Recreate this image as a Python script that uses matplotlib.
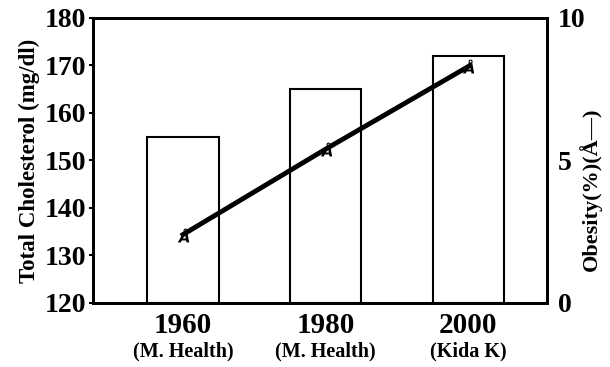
import matplotlib.pyplot as plt
import numpy as np

plt.rcParams['font.family'] = ['Liberation Serif', 'DejaVu Serif']
plt.rcParams['font.weight'] = 'bold'

years = ['1960', '1980', '2000']
sources = ['(M. Health)', '(M. Health)', '(Kida K)']
cholesterol = [155, 165, 172]
obesity = [2.4, 5.4, 8.3]

x = np.arange(len(years))

fig = plt.figure(figsize=(6.1, 3.67), dpi=100)
ax = fig.add_axes([0.1525, 0.1744, 0.7442, 0.7766])

ax.bar(x, [c - 120 for c in cholesterol], bottom=120, width=0.5,
       color='white', edgecolor='black', linewidth=1.5, zorder=1)
ax.set_xlim(-0.63, 2.55)
ax.set_ylim(120, 180)
ax.set_yticks([120, 130, 140, 150, 160, 170, 180])
ax.tick_params(axis='y', direction='out', length=3, width=1.5, labelsize=20, pad=2)
ax.set_xticks(x)
ax.set_xticklabels([''] * len(years))
ax.tick_params(axis='x', length=0)
for i in range(len(years)):
    ax.text(x[i], 118.2, years[i], ha='center', va='top', fontsize=21,
            fontweight='bold')
    ax.text(x[i], 112.0, sources[i], ha='center', va='top', fontsize=14.5,
            fontweight='bold')
ax.set_ylabel('Total Cholesterol (mg/dl)', fontsize=16.5, fontweight='bold', labelpad=3)
for s in ax.spines.values():
    s.set_linewidth(2)

ax2 = ax.twinx()
ax2.plot(x, obesity, color='black', linewidth=3.5, marker='$Å$',
         markersize=10, markeredgewidth=0, zorder=3)
ax2.set_ylim(0, 10)
ax2.set_yticks([0, 5, 10])
ax2.tick_params(axis='y', length=0, labelsize=20, pad=8)
ax2.set_ylabel('Obesity(%)(Å—)', fontsize=16, fontweight='bold')
ax2.yaxis.set_label_coords(1.07, 0.4)
for s in ax2.spines.values():
    s.set_linewidth(2)

fig.savefig('out.png', dpi=100)
